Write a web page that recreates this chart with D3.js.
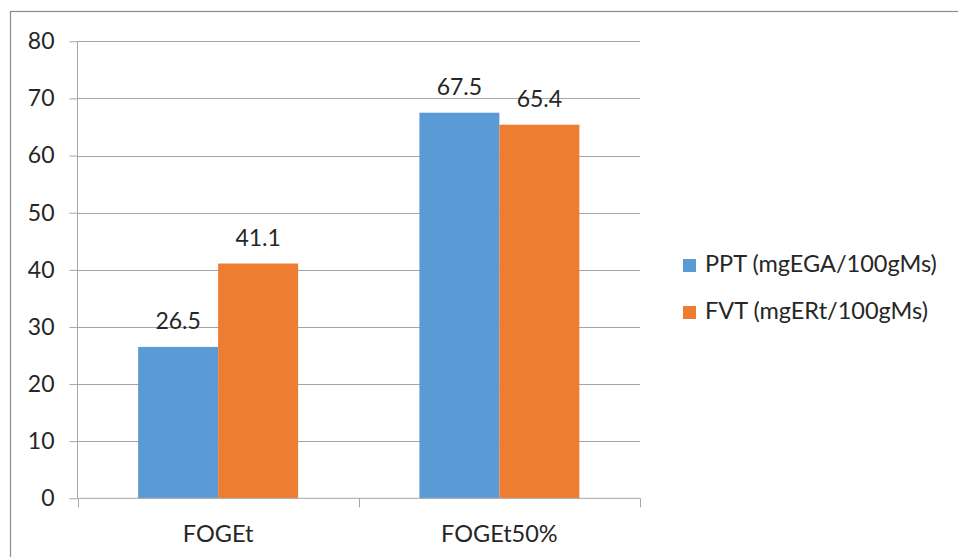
<!DOCTYPE html>
<html>
<head>
<meta charset="utf-8">
<script src="https://cdn.jsdelivr.net/npm/d3@7"></script>
<style>
  html, body { margin: 0; padding: 0; background: #fff; }
  svg { display: block; }
  text { font-family: Lato, "Open Sans", sans-serif; fill: #262626; }
</style>
</head>
<body>
<svg id="chart" width="958" height="557"></svg>
<script>
// Chart data
const categories = ["FOGEt", "FOGEt50%"];
const seriesNames = ["PPT (mgEGA/100gMs)", "FVT (mgERt/100gMs)"];
const seriesColors = ["#5B9BD5", "#ED7D31"];
const pptValues = [26.5, 67.5];
const fvtValues = [41.1, 65.4];
const yTicks = [0, 10, 20, 30, 40, 50, 60, 70, 80];

const values = [pptValues, fvtValues];

const svg = d3.select("#chart");

// outer chart frame
svg.append("rect")
  .attr("x", 10.5).attr("y", 11.5)
  .attr("width", 1000).attr("height", 600)
  .attr("fill", "none").attr("stroke", "#8c8c8c").attr("stroke-width", 1.2);

const plot = { left: 77.5, right: 640, top: 41.3, bottom: 498.3 };

const y = d3.scaleLinear().domain([0, 80]).range([plot.bottom, plot.top]);
const x0 = d3.scaleBand().domain(categories).range([plot.left, plot.right]).paddingInner(0).paddingOuter(0);
const x1 = d3.scaleBand().domain(d3.range(seriesNames.length)).range([0, x0.bandwidth()])
  .paddingInner(0).paddingOuter(0.758);

// horizontal gridlines
svg.append("g").selectAll("line").data(yTicks.filter(d => d > 0)).join("line")
  .attr("x1", plot.left).attr("x2", plot.right)
  .attr("y1", d => Math.round(y(d)) + 0.5).attr("y2", d => Math.round(y(d)) + 0.5)
  .attr("stroke", "#a6a6a6").attr("stroke-width", 1);

// bars
const groups = svg.append("g").selectAll("g").data(categories).join("g")
  .attr("transform", d => `translate(${x0(d)},0)`);

groups.selectAll("rect")
  .data((c, ci) => values.map((vals, si) => ({ si, v: vals[ci] })))
  .join("rect")
  .attr("x", d => x1(d.si))
  .attr("width", x1.bandwidth())
  .attr("y", d => y(d.v))
  .attr("height", d => y(0) - y(d.v))
  .attr("fill", d => seriesColors[d.si]);

// value labels
groups.selectAll("text.val")
  .data((c, ci) => values.map((vals, si) => ({ si, v: vals[ci] })))
  .join("text").attr("class", "val")
  .attr("x", d => x1(d.si) + x1.bandwidth() / 2)
  .attr("y", d => y(d.v) - 18)
  .attr("text-anchor", "middle")
  .attr("font-size", 23)
  .text(d => d.v.toFixed(1));

// y axis
const yAxis = d3.axisLeft(y).tickValues(yTicks).tickSize(8).tickPadding(15).tickFormat(d3.format("d"));
const gy = svg.append("g").attr("transform", `translate(${plot.left},0)`).call(yAxis);
gy.select(".domain").attr("stroke", "#a6a6a6").attr("d", `M0,${plot.top}V${plot.bottom}`);
gy.selectAll(".tick line").attr("stroke", "#a6a6a6");
gy.selectAll(".tick text").attr("font-size", 23).attr("font-family", "Lato, sans-serif").attr("fill", "#262626");

// x axis with category boundary ticks
const gx = svg.append("g").attr("transform", `translate(0,${plot.bottom})`);
gx.append("line").attr("x1", plot.left).attr("x2", plot.right).attr("y1", 0).attr("y2", 0)
  .attr("stroke", "#a6a6a6");
const bounds = categories.map(c => x0(c)).concat([x0.range()[1]]);
gx.selectAll("line.tick").data(bounds).join("line").attr("class", "tick")
  .attr("x1", d => Math.round(d) + 0.5).attr("x2", d => Math.round(d) + 0.5)
  .attr("y1", 0).attr("y2", 9).attr("stroke", "#a6a6a6");
gx.selectAll("text").data(categories).join("text")
  .attr("x", d => x0(d) + x0.bandwidth() / 2)
  .attr("y", 43.5)
  .attr("text-anchor", "middle")
  .attr("font-size", 23.5)
  .text(d => d);

// legend
const legend = svg.append("g").attr("transform", "translate(683,259)");
const items = legend.selectAll("g").data(seriesNames).join("g")
  .attr("transform", (d, i) => `translate(0,${i * 47})`);
items.append("rect").attr("width", 13).attr("height", 13)
  .attr("fill", (d, i) => seriesColors[i]);
items.append("text").attr("x", 22).attr("y", 12.5)
  .attr("font-size", 23.5)
  .text(d => d);
</script>
</body>
</html>
